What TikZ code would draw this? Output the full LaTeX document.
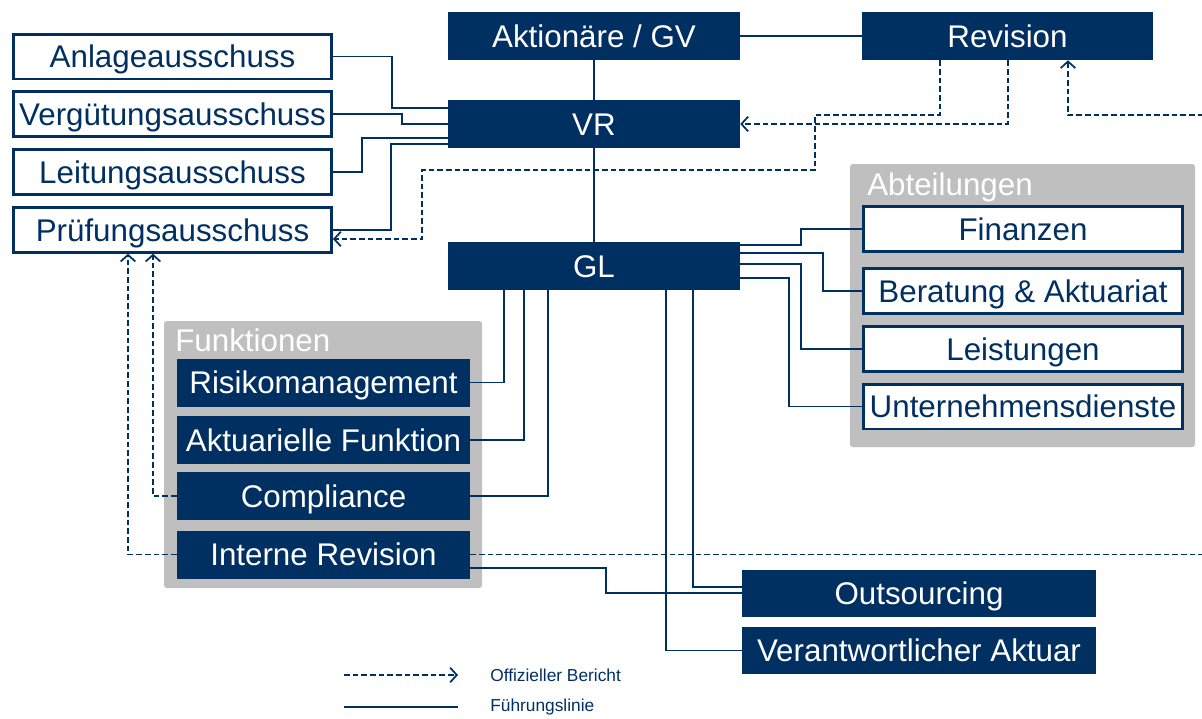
\documentclass[tikz,border=0pt]{standalone}
\usepackage{fontspec}
\setmainfont{Liberation Sans}
\usetikzlibrary{arrows.meta}
\definecolor{navy}{HTML}{003062}
\definecolor{boxgrey}{HTML}{BFBFBF}
\tikzset{lead/.style={draw=navy, line width=1.3pt},
  report/.style={draw=navy, line width=1.3pt, dash pattern=on 4.2pt off 2.3pt, -{Straight Barb[length=5pt,width=11pt]}}}

\begin{document}
\begin{tikzpicture}[x=0.75pt, y=-0.75pt,
  box/.style={minimum height=36pt, inner sep=0pt, text height=17pt, text depth=0pt, font=\fontsize{23.5}{28}\selectfont},
  dark/.style={box, fill=navy, text=white},
  light/.style={box, draw=navy, line width=2pt, fill=white, text=navy, minimum height=33.5pt},
  group/.style={fill=boxgrey, rounded corners=2pt, inner sep=0pt},
  head/.style={anchor=base west, inner sep=0pt, text=white, font=\fontsize{23.5}{28}\selectfont},
  legend/.style={anchor=west, inner sep=0pt, text=navy, font=\fontsize{13}{15}\selectfont}]
\useasboundingbox (0,0) rectangle (1202,718);
\clip (0,0) rectangle (1202,718);

% groups
\node[group, minimum width=238.5pt, minimum height=200.25pt] (funktionen) at (323,454.5) {};
\node[head] (funktionenHead) at (175,351) {Funktionen};
\node[group, minimum width=258.75pt, minimum height=212.25pt] (abteilungen) at (1022.5,305.5) {};
\node[head] (abteilungenHead) at (867,195) {Abteilungen};

% top
\node[dark, minimum width=219pt] (aktionaere) at (594,36) {Aktionäre / GV};
\node[dark, minimum width=218pt] (revision) at (1007.5,36) {Revision};
\node[dark, minimum width=219pt] (vr) at (594,124) {VR};
\node[dark, minimum width=219pt] (gl) at (594,266) {GL};

% ausschuesse
\node[light, minimum width=238.75pt] (anlage) at (172.5,56.5) {Anlageausschuss};
\node[light, minimum width=238.75pt] (verguetung) at (172.5,114) {Vergütungsausschuss};
\node[light, minimum width=238.75pt] (leitung) at (172.5,172) {Leitungsausschuss};
\node[light, minimum width=238.75pt] (pruefung) at (172.5,230) {Prüfungsausschuss};

% funktionen
\node[dark, minimum width=219.75pt] (risiko) at (323.5,382.5) {Risikomanagement};
\node[dark, minimum width=219.75pt] (aktuar) at (323.5,440) {Aktuarielle Funktion};
\node[dark, minimum width=219.75pt] (compliance) at (323.5,496) {Compliance};
\node[dark, minimum width=219.75pt] (interne) at (323.5,554.5) {Interne Revision};

% abteilungen
\node[light, minimum width=239.5pt] (finanzen) at (1023,229) {Finanzen};
\node[light, minimum width=239.5pt] (beratung) at (1023,291) {Beratung \& Aktuariat};
\node[light, minimum width=239.5pt] (leistungen) at (1023,349) {Leistungen};
\node[light, minimum width=239.5pt] (dienste) at (1023,406.5) {Unternehmensdienste};

\node[dark, minimum width=265.5pt, minimum height=35.25pt] (outsourcing) at (919,593.5) {Outsourcing};
\node[dark, minimum width=265.5pt, minimum height=35.25pt] (verantw) at (919,650.5) {Verantwortlicher Aktuar};

% fuehrungslinien
\draw[lead] (aktionaere.east) -- (revision.west);
\draw[lead] (aktionaere.south) -- (vr.north);
\draw[lead] (vr.south) -- (gl.north);
\draw[lead] (anlage.east) -| (392,108) -- (vr.west |- 0,108);
\draw[lead] (verguetung.east) -| (402,124) -- (vr.west |- 0,124);
\draw[lead] (leitung.east) -| (362,138) -- (vr.west |- 0,138);
\draw[lead] (pruefung.east) -| (391,144) -- (vr.west |- 0,144);
\draw[lead] (gl.east |- 0,245) -| (801,229) -- (finanzen.west);
\draw[lead] (gl.east |- 0,253) -| (823,291) -- (beratung.west);
\draw[lead] (gl.east |- 0,264) -| (801,349) -- (leistungen.west);
\draw[lead] (gl.east |- 0,278) -| (789,406.5) -- (dienste.west);
\draw[lead] (gl.south -| 504,0) |- (risiko.east);
\draw[lead] (gl.south -| 524,0) |- (aktuar.east);
\draw[lead] (gl.south -| 548,0) |- (compliance.east);
\draw[lead] (gl.south -| 666,0) |- (verantw.west);
\draw[lead] (gl.south -| 693,0) |- (outsourcing.west |- 0,587);
\draw[lead] (interne.east |- 0,568) -| (606,593) -- (outsourcing.west |- 0,593);

% berichte
\coordinate (irRight) at (1215,554.5);
\coordinate (irUp) at (1215,115);
\draw[report] (revision.south -| 940,0) -- (940,115) -| (815,170) -| (422,239) -- (pruefung.east |- 0,239);
\draw[report] (revision.south -| 1008,0) |- (vr.east);
\draw[report] (interne.east) -- (irRight) -- (irUp) -| (revision.south -| 1068,0);
\draw[report] (interne.west) -| (pruefung.south -| 128,0);
\draw[report] (compliance.west) -| (pruefung.south -| 153,0);

% legende
\coordinate (dashA) at (344,675);
\coordinate (dashB) at (458,675);
\coordinate (solidA) at (344,707);
\coordinate (solidB) at (458,707);
\node[legend] (berichtText) at (490,675) {Offizieller Bericht};
\node[legend] (fuehrungText) at (490,707) {Führungslinie};
\draw[report] (dashA) -- (dashB);
\draw[lead] (solidA) -- (solidB);
\end{tikzpicture}
\end{document}
